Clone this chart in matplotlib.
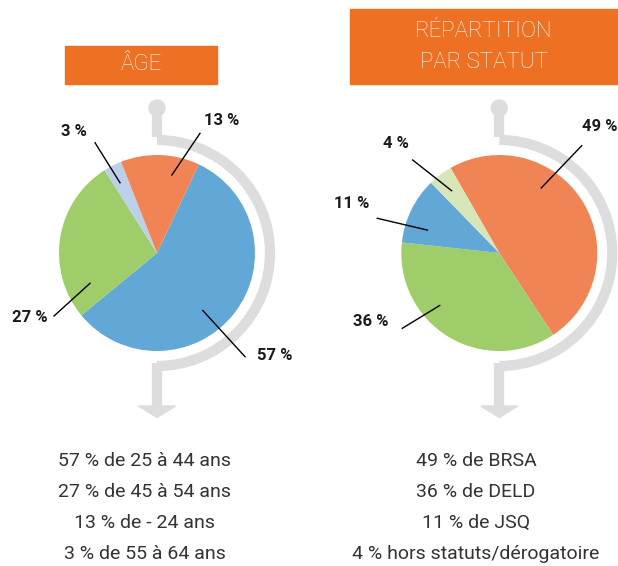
"""Infographie : répartition par âge et par statut (deux camemberts)."""

import matplotlib
matplotlib.use("Agg")
import matplotlib.pyplot as plt
import numpy as np
from matplotlib.patches import Arc, Circle, Polygon, Rectangle

plt.rcParams["font.family"] = ["Roboto", "DejaVu Sans"]

W, H = 618, 566

# --- données ---
age_values = [57, 27, 3, 13]
age_colors = ["#62a8d6", "#9fcd69", "#bdd0ea", "#f08454"]
age_labels = ["57 %", "27 %", "3 %", "13 %"]
age_lines = [
    "57 % de 25 à 44 ans",
    "27 % de 45 à 54 ans",
    "13 % de - 24 ans",
    "3 % de 55 à 64 ans",
]

statut_values = [49, 36, 11, 4]
statut_colors = ["#f08454", "#9fcd69", "#62a8d6", "#d6e6b9"]
statut_labels = ["49 %", "36 %", "11 %", "4 %"]
statut_lines = [
    "49 % de BRSA",
    "36 % de DELD",
    "11 % de JSQ",
    "4 % hors statuts/dérogatoire",
]

ORANGE = "#ee7023"
TRACK = "#dcdddc"


def py(y):
    """coordonnées pixel (origine en haut) -> axe (origine en bas)"""
    return H - y


fig = plt.figure(figsize=(W / 100, H / 100), dpi=100)
ax = fig.add_axes([0, 0, 1, 1])


def draw_panel(cx, cy, values, colors, labels, start, label_layout):
    r = 98
    wedges, _ = ax.pie(
        values,
        colors=colors,
        startangle=start,
        counterclock=False,
        radius=r,
        center=(cx, py(cy)),
        wedgeprops={"linewidth": 0},
    )
    for w in wedges:
        w.set_zorder(3)

    # rail gris autour du camembert
    rt = 113
    lw = 7.4
    ax.add_patch(Arc((cx, py(cy)), 2 * rt, 2 * rt, theta1=-90, theta2=90,
                     lw=lw, color=TRACK, zorder=1))
    ax.plot([cx, cx], [py(cy - 145), py(cy - rt - 3.5)], color=TRACK, lw=lw,
            solid_capstyle="butt", zorder=1)
    ax.add_patch(Circle((cx, py(cy - 145)), 8, color=TRACK, zorder=1))
    ax.plot([cx, cx], [py(cy + rt - 3.5), py(cy + 154)], color=TRACK, lw=lw,
            solid_capstyle="butt", zorder=1)
    ax.add_patch(Polygon([(cx - 18.5, py(cy + 153)), (cx + 18.5, py(cy + 153)),
                          (cx, py(cy + 164.5))], closed=True, color=TRACK, zorder=1))

    # étiquettes + traits de rappel
    for w, lab, (frac, rf, tx, ty, lx, ly) in zip(wedges, labels, label_layout):
        ang = np.radians(w.theta1 + frac * (w.theta2 - w.theta1))
        ix = cx + rf * r * np.cos(ang)
        iy = py(cy) + rf * r * np.sin(ang)
        ax.plot([lx, ix], [py(ly), iy], color="black", lw=1.0, zorder=4)
        ax.text(tx, py(ty), lab, ha="center", va="center", fontsize=12,
                fontweight="bold", color="#1a1a1a", zorder=5)


# (fraction dans le secteur, rayon relatif, texte x, texte y, trait x, trait y)
age_layout = [
    (0.434, 0.75, 275, 356, 245, 356.7),
    (0.844, 0.75, 30, 318, 54, 316),
    (0.58, 0.81, 74, 131.5, 95, 142.7),
    (0.31, 0.81, 222, 120.5, 200, 133.3),
]
statut_layout = [
    (0.645, 0.79, 600, 126.5, 581.7, 145.7),
    (0.367, 0.81, 371, 321.5, 402.3, 328.3),
    (0.71, 0.77, 352, 204, 377.3, 218.3),
    (0.53, 0.80, 396, 143.5, 412.7, 160),
]

draw_panel(157, 253, age_values, age_colors, age_labels, 64.7, age_layout)
draw_panel(499.3, 253, statut_values, statut_colors, statut_labels, 119.8, statut_layout)

# bandeaux de titre
ax.add_patch(Rectangle((65, py(83.5)), 152, 37.5, color=ORANGE, zorder=2))
ax.text(141, py(65), "ÂGE", ha="center", va="center", fontsize=16,
        fontweight="light", color="white", zorder=3)
ax.add_patch(Rectangle((350, py(83.5)), 268, 74.5, color=ORANGE, zorder=2))
ax.text(484, py(31.5), "RÉPARTITION", ha="center", va="center", fontsize=16,
        fontweight="light", color="white", zorder=3)
ax.text(484, py(63), "PAR STATUT", ha="center", va="center", fontsize=16,
        fontweight="light", color="white", zorder=3)

# légendes texte en bas
for i, (a, b) in enumerate(zip(age_lines, statut_lines)):
    y = 460.5 + i * 31.2
    ax.text(145, py(y), a, ha="center", va="center", fontsize=14,
            color="#333333")
    ax.text(476, py(y), b, ha="center", va="center", fontsize=14,
            color="#333333")

ax.set_xlim(0, W)
ax.set_ylim(0, H)
ax.set_aspect("equal")
ax.axis("off")

fig.savefig("out.png", dpi=100, facecolor="white")
